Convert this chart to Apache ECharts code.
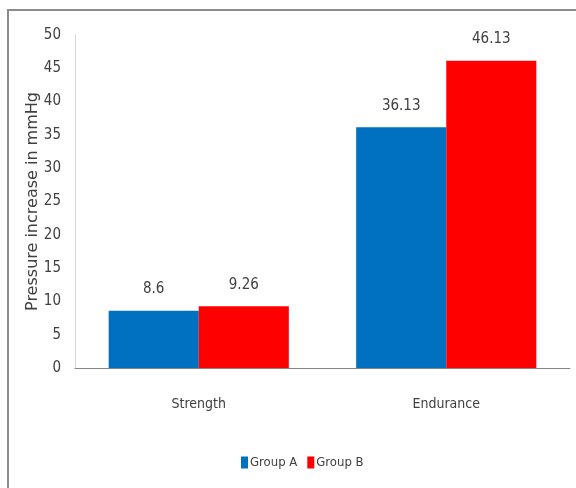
<!DOCTYPE html>
<html><head><meta charset="utf-8">
<script src="https://cdn.jsdelivr.net/npm/echarts@6/dist/echarts.min.js"></script>
<style>
html,body{margin:0;padding:0;background:#fff;}
#wrap{position:relative;width:576px;height:488px;}
#c{width:576px;height:488px;}
#frame{position:absolute;left:7px;top:9px;right:-4px;bottom:-4px;border-top:2px solid #8c8c8c;border-left:2px solid #8c8c8c;pointer-events:none;}
</style></head>
<body><div id="wrap"><div id="c"></div><div id="frame"></div></div>
<script>
const categories = ['Strength', 'Endurance'];
const groupA = [8.6, 36.13];
const groupB = [9.26, 46.13];
const seriesNames = ['Group A', 'Group B'];
const yTitle = 'Pressure increase in mmHg';

const narrow = '"Liberation Sans Narrow", "DejaVu Sans Condensed", sans-serif';
const chart = echarts.init(document.getElementById('c'), null, {renderer: 'canvas'});
chart.setOption({
  animation: false,
  backgroundColor: '#fff',
  textStyle: {fontFamily: narrow},
  grid: {left: 75, right: 6, top: 35, bottom: 120, containLabel: false},
  legend: {
    bottom: 14, left: 236,
    itemWidth: 7, itemHeight: 12, itemGap: 10, icon: 'rect',
    textStyle: {fontFamily: narrow, fontSize: 13, color: '#404040', padding: [0,0,0,-3]},
    data: seriesNames
  },
  xAxis: {
    type: 'category', data: categories,
    axisLine: {lineStyle: {color: '#868686', width: 1}},
    axisTick: {show: false},
    axisLabel: {fontFamily: narrow, fontSize: 14, color: '#404040', margin: 29}
  },
  yAxis: {
    type: 'value', min: 0, max: 50, interval: 5,
    name: yTitle, nameLocation: 'middle', nameGap: 34, nameRotate: 90,
    nameMoveOverlap: false,
    nameTextStyle: {fontFamily: '"DejaVu Sans", sans-serif', fontSize: 16, color: '#404040'},
    axisLine: {show: true, lineStyle: {color: '#d9d9d9'}},
    axisTick: {show: false},
    splitLine: {show: false},
    axisLabel: {fontFamily: narrow, fontSize: 15, color: '#404040', margin: 14}
  },
  series: [
    {name: seriesNames[0], type: 'bar', data: groupA, barWidth: '36.4%', barGap: '0%',
     itemStyle: {color: '#0070C0'},
     label: {show: true, position: 'top', distance: 14, fontFamily: narrow, fontSize: 15, color: '#404040'}},
    {name: seriesNames[1], type: 'bar', data: groupB, barWidth: '36.4%',
     itemStyle: {color: '#FF0000'},
     label: {show: true, position: 'top', distance: 14, fontFamily: narrow, fontSize: 15, color: '#404040'}}
  ]
});
</script></body></html>
